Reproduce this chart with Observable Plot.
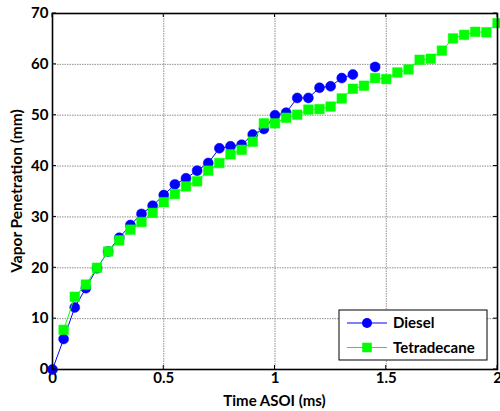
<!DOCTYPE html>
<html>
<head>
<meta charset="utf-8">
<script src="https://cdn.jsdelivr.net/npm/d3@7"></script>
<script src="https://cdn.jsdelivr.net/npm/@observablehq/plot@0.6"></script>
<style>
  html, body { margin: 0; padding: 0; background: #fff; }
  #chart { position: relative; width: 500px; height: 411px; overflow: hidden; }
  svg { font-family: Lato, "Open Sans", sans-serif; }
</style>
</head>
<body>
<div id="chart"></div>
<script>
// ---- data ----
const dieselTime = [0, 0.05, 0.1, 0.15, 0.2, 0.25, 0.3, 0.35, 0.4, 0.45, 0.5, 0.55, 0.6, 0.65, 0.7, 0.75, 0.8, 0.85, 0.9, 0.95, 1.0, 1.05, 1.1, 1.15, 1.2, 1.25, 1.3, 1.35, 1.4, 1.45];
const dieselVals = [0, 6.0, 12.2, 16.0, 19.9, 23.2, 25.9, 28.4, 30.6, 32.2, 34.3, 36.4, 37.6, 39.1, 40.6, 43.5, 43.9, 44.2, 46.2, 47.3, 50.0, 50.5, 53.4, 53.4, 55.4, 55.7, 57.3, 58.0, null, 59.5];
const tetraTime = [0.05, 0.1, 0.15, 0.2, 0.25, 0.3, 0.35, 0.4, 0.45, 0.5, 0.55, 0.6, 0.65, 0.7, 0.75, 0.8, 0.85, 0.9, 0.95, 1.0, 1.05, 1.1, 1.15, 1.2, 1.25, 1.3, 1.35, 1.4, 1.45, 1.5, 1.55, 1.6, 1.65, 1.7, 1.75, 1.8, 1.85, 1.9, 1.95, 2.0];
const tetraVals = [7.8, 14.3, 16.7, 20.0, 23.2, 25.4, 27.5, 29.0, 30.8, 32.9, 34.5, 36.0, 37.0, 39.1, 40.6, 42.3, 43.2, 44.8, 48.4, 48.4, 49.5, 50.1, 51.1, 51.2, 51.7, 53.3, 55.2, 55.8, 57.3, 57.1, 58.4, 59.0, 60.9, 61.1, 62.7, 65.1, 65.8, 66.4, 66.3, 68.1];
const xTicks = [0, 0.5, 1, 1.5, 2];
const yTicks = [0, 10, 20, 30, 40, 50, 60, 70];
const seriesNames = ["Diesel", "Tetradecane"];
const xLabel = "Time ASOI (ms)";
const yLabel = "Vapor Penetration (mm)";

const diesel = dieselTime.map((t, i) => ({t, v: dieselVals[i]}));
const tetra = tetraTime.map((t, i) => ({t, v: tetraVals[i]}));

const BLUE = "#0000ff", GREEN = "#00ff00";
const gridX = xTicks.slice(1, -1), gridY = yTicks.slice(1, -1);

const plot = Plot.plot({
  width: 500,
  height: 411,
  marginLeft: 52,
  marginRight: 3,
  marginTop: 13,
  marginBottom: 42,
  style: {fontFamily: "Lato, 'Open Sans', sans-serif", fontSize: "15px", fontWeight: "bold", color: "#000", background: "#fff"},
  x: {domain: [0, 2]},
  y: {domain: [0, 70]},
  marks: [
    Plot.ruleX(gridX, {stroke: "#909090", strokeWidth: 1, strokeDasharray: "1.5,1"}),
    Plot.ruleY(gridY, {stroke: "#909090", strokeWidth: 1, strokeDasharray: "1.5,1"}),
    Plot.axisX({ticks: xTicks, tickSize: 0, tickPadding: 3, tickFormat: d => String(d), label: null, fill: "#000"}),
    Plot.axisY({ticks: yTicks, tickSize: 0, tickPadding: 4, tickFormat: d => String(d), label: null, fill: "#000"}),
    Plot.line(diesel, {x: "t", y: "v", stroke: BLUE, strokeWidth: 1}),
    Plot.dot(diesel, {x: "t", y: "v", r: 5, fill: BLUE, stroke: BLUE, strokeWidth: 0.5}),
    Plot.line(tetra, {x: "t", y: "v", stroke: GREEN, strokeWidth: 1}),
    Plot.dot(tetra, {x: "t", y: "v", symbol: "square", r: 5.4, fill: GREEN, stroke: GREEN, strokeWidth: 0.5}),
    Plot.frame({stroke: "#000", strokeWidth: 1.6})
  ]
});

document.getElementById("chart").appendChild(plot);

// inward ticks on all four sides (MATLAB box style), positioned via Plot's scales
const svg = d3.select(plot);
const sx = plot.scale("x"), sy = plot.scale("y");
const X = v => sx.apply(v), Y = v => sy.apply(v);
const x0 = X(0), x1 = X(2), y0 = Y(0), y1 = Y(70);
const tk = svg.append("g").attr("stroke", "#000").attr("stroke-width", 1);
xTicks.forEach(v => {
  tk.append("line").attr("x1", X(v)).attr("x2", X(v)).attr("y1", y0).attr("y2", y0 - 4);
  tk.append("line").attr("x1", X(v)).attr("x2", X(v)).attr("y1", y1).attr("y2", y1 + 4);
});
yTicks.forEach(v => {
  tk.append("line").attr("y1", Y(v)).attr("y2", Y(v)).attr("x1", x0).attr("x2", x0 + 4);
  tk.append("line").attr("y1", Y(v)).attr("y2", Y(v)).attr("x1", x1).attr("x2", x1 - 4);
});

// axis titles
svg.append("text")
  .attr("x", (x0 + x1) / 2).attr("y", 406)
  .attr("text-anchor", "middle").attr("font-size", 15).attr("font-weight", "bold").attr("fill", "#000")
  .text(xLabel);
svg.append("text")
  .attr("transform", `translate(22,${(y0 + y1) / 2}) rotate(-90)`)
  .attr("text-anchor", "middle").attr("font-size", 15.5).attr("font-weight", "bold").attr("fill", "#000")
  .text(yLabel);

// legend
const lg = svg.append("g").attr("transform", "translate(339,310)");
lg.append("rect").attr("width", 148).attr("height", 50).attr("fill", "#fff").attr("stroke", "#000").attr("stroke-width", 1);
const sym = d3.symbol().type(d3.symbolSquare).size(5.4 * 5.4 * Math.PI);
seriesNames.forEach((name, i) => {
  const yy = 13 + i * 24.5;
  const col = i === 0 ? BLUE : GREEN;
  lg.append("line").attr("x1", 8).attr("x2", 48).attr("y1", yy).attr("y2", yy).attr("stroke", col).attr("stroke-width", 1);
  if (i === 0) lg.append("circle").attr("cx", 28).attr("cy", yy).attr("r", 5).attr("fill", col);
  else lg.append("path").attr("d", sym()).attr("transform", `translate(28,${yy})`).attr("fill", col);
  lg.append("text").attr("x", 54).attr("y", yy).attr("dy", "0.35em").attr("text-anchor", "start")
    .attr("font-size", 15).attr("font-weight", "bold").attr("fill", "#000").text(name);
});
</script>
</body>
</html>
